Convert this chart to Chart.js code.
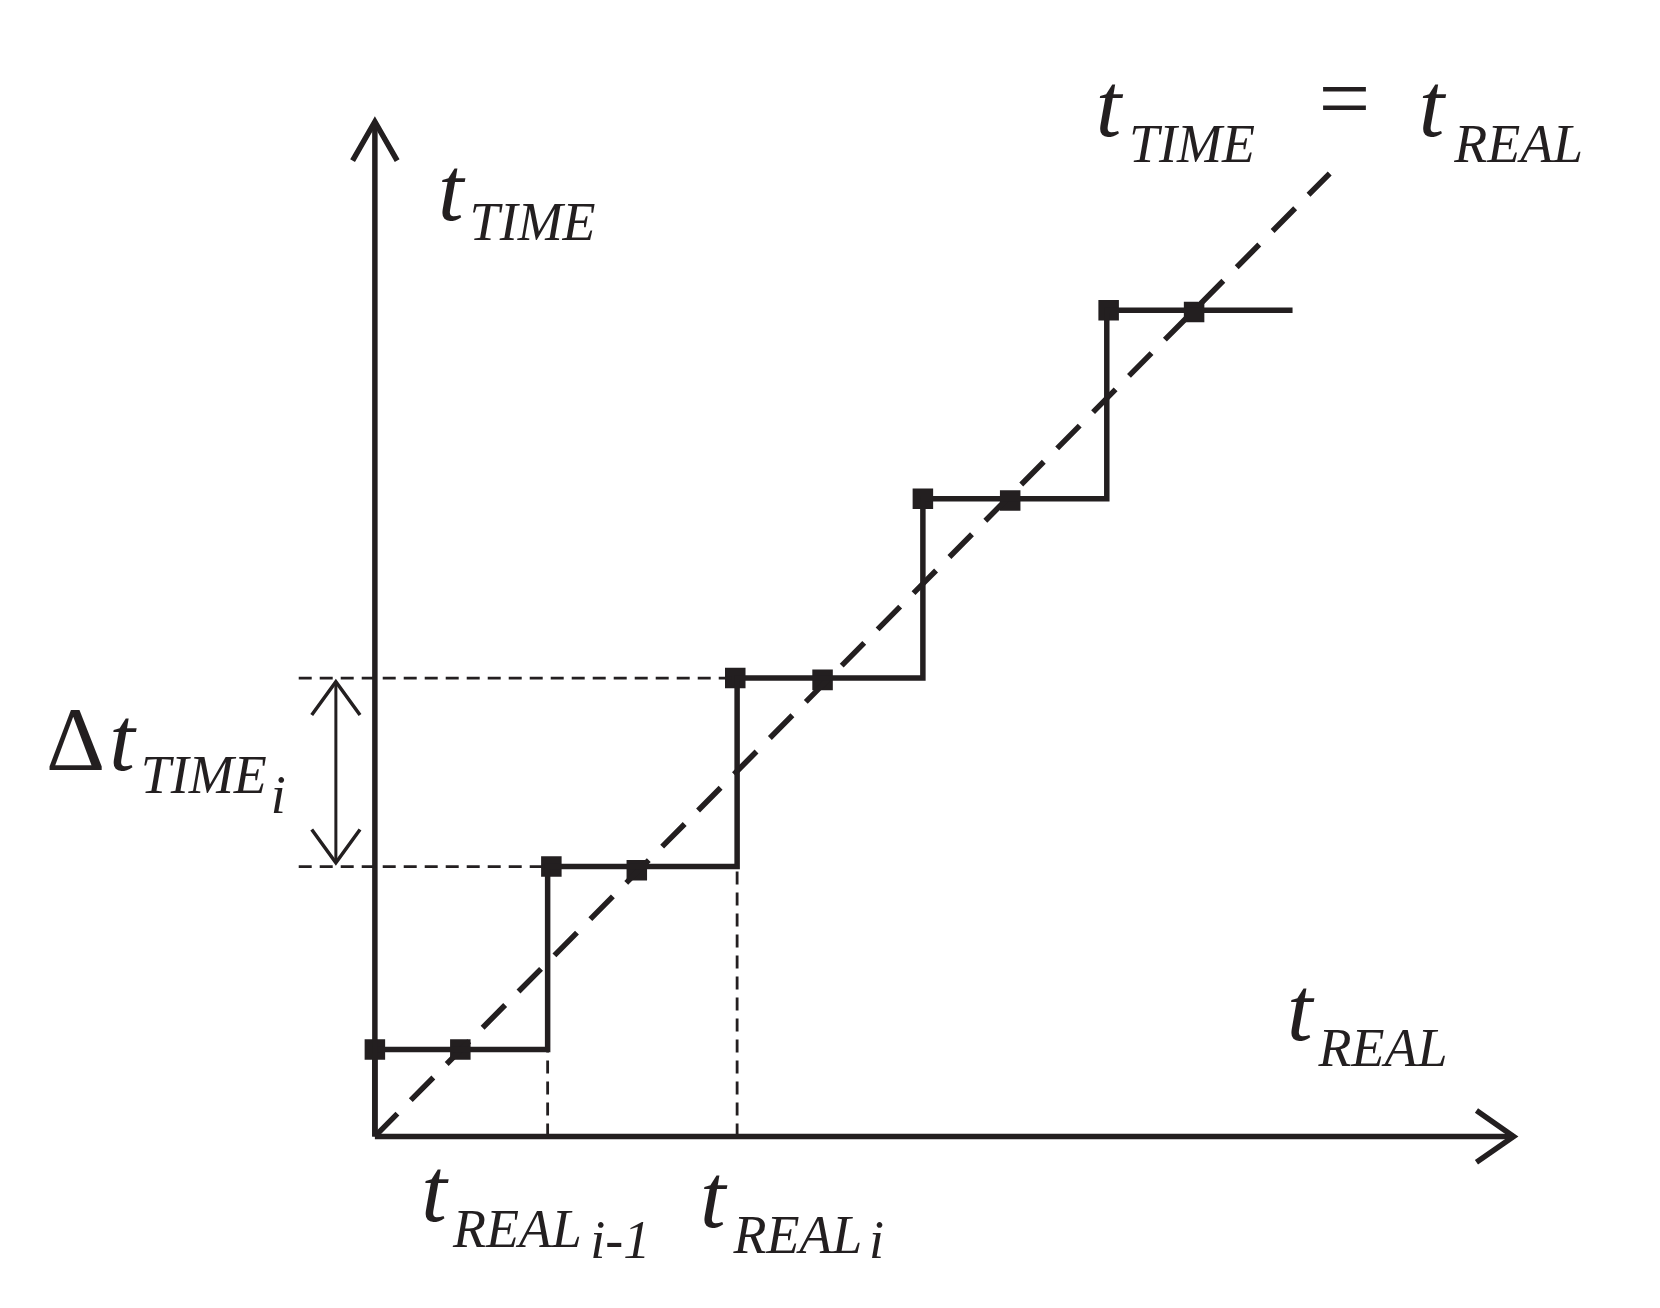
<!DOCTYPE html>
<html><head><meta charset="utf-8">
<script src="https://cdn.jsdelivr.net/npm/chart.js@4/dist/chart.umd.min.js"></script>
<style>html,body{margin:0;padding:0;background:#fff}canvas{display:block}</style>
</head><body>
<canvas id="c" width="1660" height="1308"></canvas>
<script>
// step function (t_REAL, t_TIME) in units of one step
const stepX = [0, 0.93, 1.95, 2.95, 3.94, 4.94];
const stepY = [0.47, 1.46, 2.48, 3.45, 4.47];
const markers = [
  {x: 0, y: 0.47}, {x: 0.46, y: 0.47},
  {x: 0.95, y: 1.46}, {x: 1.41, y: 1.44},
  {x: 1.94, y: 2.48}, {x: 2.41, y: 2.47},
  {x: 2.95, y: 3.45}, {x: 3.42, y: 3.44},
  {x: 3.95, y: 4.47}, {x: 4.41, y: 4.46}
];
const ideal = [{x: 0, y: 0}, {x: 5.14, y: 5.21}];

const ink = '#231f20';

function stepLine() {
  const pts = [{x: 0, y: 0}, {x: 0, y: stepY[0]}];
  for (let i = 0; i < stepY.length; i++) {
    pts.push({x: stepX[i + 1], y: stepY[i]});
    if (i + 1 < stepY.length) pts.push({x: stepX[i + 1], y: stepY[i + 1]});
  }
  return pts;
}

function seg(data, width, dash) {
  return {type: 'line', data, borderColor: ink, borderWidth: width, borderDash: dash || [],
    pointRadius: 0, fill: false, tension: 0, borderCapStyle: 'butt'};
}

const datasets = [
  seg([{x: 0, y: 0}, {x: 6.13, y: 0}], 5.5),
  seg([{x: 5.93, y: 0.14}, {x: 6.13, y: 0}, {x: 5.93, y: -0.14}], 5.5),
  seg([{x: 0, y: 0}, {x: 0, y: 5.49}], 5.5),
  seg([{x: -0.12, y: 5.28}, {x: 0, y: 5.49}, {x: 0.12, y: 5.28}], 5.5),
  seg(stepLine(), 5.5),
  seg(ideal, 5.5, [32, 19]),
  // guides
  seg([{x: -0.41, y: 1.46}, {x: stepX[2], y: 1.46}], 2.8, [13, 8]),
  seg([{x: -0.41, y: 2.48}, {x: stepX[2], y: 2.48}], 2.8, [13, 8]),
  seg([{x: stepX[1], y: 0}, {x: stepX[1], y: stepY[0]}], 2.8, [13, 8]),
  seg([{x: stepX[2], y: 0}, {x: stepX[2], y: stepY[1]}], 2.8, [13, 8]),
  // double arrow
  seg([{x: -0.21, y: 1.48}, {x: -0.21, y: 2.46}], 3),
  seg([{x: -0.34, y: 2.28}, {x: -0.21, y: 2.46}, {x: -0.08, y: 2.28}], 3.5),
  seg([{x: -0.34, y: 1.66}, {x: -0.21, y: 1.48}, {x: -0.08, y: 1.66}], 3.5),
  {type: 'scatter', data: markers, pointStyle: 'rect', pointRadius: 14.5, pointRotation: 0,
    backgroundColor: ink, borderColor: ink, borderWidth: 0}
];

// text pieces: [text, x, y, size]
const labels = [
  ['t', 0.34, 4.96, 92], ['TIME', 0.51, 4.85, 54],
  ['t', 3.88, 5.41, 92], ['TIME', 4.06, 5.27, 54],
  ['=', 5.08, 5.45, 92],
  ['t', 5.62, 5.41, 92], ['REAL', 5.81, 5.27, 54],
  ['t', 4.91, 0.52, 92], ['REAL', 5.08, 0.38, 54],
  ['t', 0.25, -0.46, 92], ['REAL', 0.42, -0.6, 54], ['i-1', 1.16, -0.66, 54],
  ['t', 1.75, -0.49, 92], ['REAL', 1.93, -0.63, 54], ['i', 2.66, -0.66, 54],
  ['t', -1.43, 1.98, 92], ['TIME', -1.26, 1.86, 54], ['i', -0.56, 1.75, 54]
];

const textPlugin = {
  id: 'texts',
  afterDatasetsDraw(chart) {
    const {ctx, scales: {x, y}} = chart;
    ctx.save();
    ctx.fillStyle = ink;
    ctx.textBaseline = 'alphabetic';
    for (const [t, vx, vy, s] of labels) {
      ctx.font = (t === '=' ? '' : 'italic ') + s + 'px "Liberation Serif"';
      ctx.fillText(t, x.getPixelForValue(vx), y.getPixelForValue(vy));
    }
    ctx.font = '92px "Liberation Serif"';
    ctx.fillText('\u0394', x.getPixelForValue(-1.77), y.getPixelForValue(1.98));
    ctx.restore();
  }
};

new Chart(document.getElementById('c'), {
  data: {datasets},
  options: {
    responsive: false, animation: false,
    layout: {padding: 0},
    plugins: {legend: {display: false}, tooltip: {enabled: false}},
    scales: {
      x: {type: 'linear', min: -1.94, max: 6.84, display: false},
      y: {type: 'linear', min: -0.85, max: 6.07, display: false}
    }
  },
  plugins: [textPlugin]
});
</script>
</body></html>
